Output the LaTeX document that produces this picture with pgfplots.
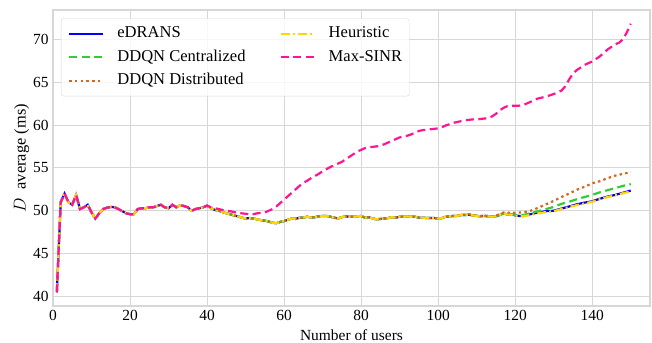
\documentclass[border=0pt]{standalone}
\usepackage{pgfplots}
\pgfplotsset{compat=1.18}
\usepackage{fontspec}
\setmainfont{Liberation Serif}
\definecolor{cblue}{RGB}{0,0,255}
\definecolor{cgreen}{RGB}{50,205,50}
\definecolor{corange}{RGB}{210,105,30}
\definecolor{cgold}{RGB}{255,215,0}
\definecolor{cpink}{RGB}{255,20,147}
\definecolor{gridc}{RGB}{215,215,215}
\newcommand{\fs}{\fontsize{15.5}{18}\selectfont}
\newcommand{\fl}{\fontsize{16.6}{19}\selectfont}
\begin{document}
\begin{tikzpicture}
\begin{axis}[
  name=ax,
  scale only axis,
  width=597bp, height=296bp,
  xmin=0, xmax=155, ymin=38.9, ymax=73.4,
  xtick={0,20,...,140}, ytick={40,45,...,70},
  major tick length=0pt,
  grid=major,
  grid style={gridc, line width=0.9bp},
  axis line style={gridc, line width=1.1bp},
  /pgf/number format/assume math mode=true,
  ticklabel style={font=\fs},
  xticklabel style={yshift=-1bp},
  yticklabel style={xshift=-1bp},
  xlabel={Number of users},
  ylabel={$D$\enspace average (ms)},
  xlabel style={font=\fs, yshift=-2bp},
  ylabel style={font=\fontsize{16.5}{19}\selectfont, yshift=-3bp},
  legend columns=2,
  legend cell align=left,
  legend style={at={(0.0134,0.972)}, anchor=north west, font=\fl,
    draw=gridc, rounded corners=2.5bp, fill=white, fill opacity=0.8, text opacity=1,
    inner xsep=7bp, inner ysep=7.8bp, row sep=8.5bp,
    nodes={inner sep=0pt, text height=11.5bp, text depth=3.5bp},
    /tikz/every even column/.append style={column sep=34bp}},
  legend image code/.code={\draw[#1] (0bp,0bp) -- (34bp,0bp); \path (47bp,0bp);},
  every axis plot/.append style={line width=2.2bp},
]
\addlegendimage{cblue, solid, line width=2.2bp}
\addlegendentry{eDRANS}
\addlegendimage{cgold, line width=2.2bp, dash pattern=on 9bp off 3bp on 2bp off 3bp}
\addlegendentry{Heuristic}
\addlegendimage{cgreen, line width=2.2bp, dash pattern=on 8bp off 4.5bp}
\addlegendentry{DDQN Centralized}
\addlegendimage{cpink, line width=2.2bp, dash pattern=on 8bp off 4.5bp}
\addlegendentry{Max-SINR}
\addlegendimage{corange, line width=2.2bp, dash pattern=on 2.5bp off 3.2bp}
\addlegendentry{DDQN Distributed}
% eDRANS
\addplot[cblue, solid, forget plot] coordinates {
(1,40.5)(2,51.0)(3,52.0)(4,51.0)(5,50.7)(6,51.85)(7,50.2)(8,50.4)(9,50.7)(10,49.8)
(11,49.1)(12,49.7)(13,50.2)(14,50.35)(15,50.45)(16,50.4)(17,50.2)(18,49.95)(19,49.7)(20,49.6)
(21,49.6)(22,50.2)(23,50.3)(24,50.3)(25,50.4)(26,50.4)(27,50.55)(28,50.7)(29,50.4)(30,50.3)
(31,50.7)(32,50.4)(33,50.65)(34,50.55)(35,50.4)(36,50.0)(37,50.2)(38,50.3)(39,50.4)(40,50.6)
(41,50.3)(42,50.1)(43,50.0)(44,49.85)(45,49.7)(46,49.6)(47,49.45)(48,49.35)(49,49.2)(50,49.1)
(51,49.15)(52,49.1)(53,49.0)(54,48.9)(55,48.85)(56,48.75)(57,48.6)(58,48.55)(59,48.7)(60,48.8)
(61,48.95)(62,49.1)(63,49.05)(64,49.2)(65,49.2)(66,49.3)(67,49.2)(68,49.25)(69,49.35)(70,49.4)
(71,49.4)(72,49.3)(73,49.2)(74,49.1)(75,49.25)(76,49.35)(77,49.3)(78,49.3)(79,49.35)(80,49.4)
(81,49.2)(82,49.25)(83,49.1)(84,49.0)(85,49.05)(86,49.1)(87,49.15)(88,49.25)(89,49.2)(90,49.3)
(91,49.3)(92,49.35)(93,49.3)(94,49.3)(95,49.2)(96,49.2)(97,49.15)(98,49.15)(99,49.15)(100,49.1)
(101,49.15)(102,49.3)(103,49.35)(104,49.4)(105,49.4)(106,49.5)(107,49.5)(108,49.55)(109,49.45)(110,49.4)
(111,49.35)(112,49.4)(113,49.35)(114,49.3)(115,49.35)(116,49.5)(117,49.7)(118,49.55)(119,49.6)(120,49.45)
(121,49.4)(122,49.4)(124,49.6)(126,49.8)(128,49.95)(130,50.0)(132,50.25)(134,50.5)(136,50.75)(138,50.95)
(140,51.1)(142,51.4)(144,51.65)(146,51.85)(148,52.1)(150,52.35)};
% DDQN Centralized
\addplot[cgreen, dash pattern=on 8bp off 4.5bp, forget plot] coordinates {
(1,40.5)(2,51.0)(3,52.0)(4,51.0)(5,50.7)(6,51.85)(7,50.2)(8,50.4)(9,50.7)(10,49.8)
(11,49.1)(12,49.7)(13,50.2)(14,50.35)(15,50.45)(16,50.4)(17,50.2)(18,49.95)(19,49.7)(20,49.6)
(21,49.6)(22,50.2)(23,50.3)(24,50.3)(25,50.4)(26,50.4)(27,50.55)(28,50.7)(29,50.4)(30,50.3)
(31,50.7)(32,50.4)(33,50.65)(34,50.55)(35,50.4)(36,50.0)(37,50.2)(38,50.3)(39,50.4)(40,50.6)
(41,50.3)(42,50.1)(43,50.0)(44,49.85)(45,49.7)(46,49.6)(47,49.45)(48,49.35)(49,49.2)(50,49.1)
(51,49.15)(52,49.1)(53,49.0)(54,48.9)(55,48.85)(56,48.75)(57,48.6)(58,48.55)(59,48.7)(60,48.8)
(61,48.95)(62,49.1)(63,49.05)(64,49.2)(65,49.2)(66,49.3)(67,49.2)(68,49.25)(69,49.35)(70,49.4)
(71,49.4)(72,49.3)(73,49.2)(74,49.1)(75,49.25)(76,49.35)(77,49.3)(78,49.3)(79,49.35)(80,49.4)
(81,49.2)(82,49.25)(83,49.1)(84,49.0)(85,49.05)(86,49.1)(87,49.15)(88,49.25)(89,49.2)(90,49.3)
(91,49.3)(92,49.35)(93,49.3)(94,49.3)(95,49.2)(96,49.2)(97,49.15)(98,49.15)(99,49.15)(100,49.1)
(101,49.15)(102,49.3)(103,49.35)(104,49.4)(105,49.4)(106,49.5)(107,49.5)(108,49.55)(109,49.45)(110,49.4)
(111,49.35)(112,49.4)(113,49.35)(114,49.3)(115,49.35)(116,49.5)(117,49.7)(118,49.6)(119,49.6)(120,49.5)
(121,49.5)(122,49.5)(123,49.6)(124,49.75)(126,49.95)(128,50.2)(130,50.45)(132,50.8)(134,51.05)(136,51.35)
(138,51.6)(140,51.85)(142,52.15)(144,52.4)(146,52.65)(148,52.9)(150,53.1)};
% DDQN Distributed
\addplot[corange, dash pattern=on 2.5bp off 3.2bp, forget plot] coordinates {
(1,40.5)(2,51.0)(3,52.0)(4,51.0)(5,50.7)(6,51.85)(7,50.2)(8,50.4)(9,50.7)(10,49.8)
(11,49.1)(12,49.7)(13,50.2)(14,50.35)(15,50.45)(16,50.4)(17,50.2)(18,49.95)(19,49.7)(20,49.6)
(21,49.6)(22,50.2)(23,50.3)(24,50.3)(25,50.4)(26,50.4)(27,50.55)(28,50.7)(29,50.4)(30,50.3)
(31,50.7)(32,50.4)(33,50.65)(34,50.55)(35,50.4)(36,50.0)(37,50.2)(38,50.3)(39,50.4)(40,50.6)
(41,50.3)(42,50.1)(43,50.0)(44,49.85)(45,49.7)(46,49.6)(47,49.45)(48,49.35)(49,49.2)(50,49.1)
(51,49.15)(52,49.1)(53,49.0)(54,48.9)(55,48.85)(56,48.75)(57,48.6)(58,48.55)(59,48.7)(60,48.8)
(61,48.95)(62,49.1)(63,49.05)(64,49.2)(65,49.2)(66,49.3)(67,49.2)(68,49.25)(69,49.35)(70,49.4)
(71,49.4)(72,49.3)(73,49.2)(74,49.1)(75,49.25)(76,49.35)(77,49.3)(78,49.3)(79,49.35)(80,49.4)
(81,49.2)(82,49.25)(83,49.1)(84,49.0)(85,49.05)(86,49.1)(87,49.15)(88,49.25)(89,49.2)(90,49.3)
(91,49.3)(92,49.35)(93,49.3)(94,49.3)(95,49.2)(96,49.2)(97,49.15)(98,49.15)(99,49.15)(100,49.1)
(101,49.15)(102,49.3)(103,49.35)(104,49.4)(105,49.45)(106,49.5)(107,49.55)(108,49.6)(109,49.5)(110,49.45)
(111,49.4)(112,49.45)(113,49.4)(114,49.35)(115,49.45)(116,49.6)(117,49.8)(118,49.75)(119,49.8)(120,49.75)
(121,49.8)(122,49.8)(124,50.0)(126,50.35)(128,50.75)(130,51.15)(132,51.6)(134,52.0)(136,52.45)(138,52.8)
(140,53.2)(142,53.45)(144,53.8)(146,54.1)(148,54.3)(150,54.5)};
% Heuristic
\addplot[cgold, dash pattern=on 9bp off 3bp on 2bp off 3bp, forget plot] coordinates {
(1,40.5)(2,51.0)(3,52.0)(4,51.0)(5,50.7)(6,51.85)(7,50.2)(8,50.4)(9,50.7)(10,49.8)
(11,49.1)(12,49.7)(13,50.2)(14,50.35)(15,50.45)(16,50.4)(17,50.2)(18,49.95)(19,49.7)(20,49.6)
(21,49.6)(22,50.2)(23,50.3)(24,50.3)(25,50.4)(26,50.4)(27,50.55)(28,50.7)(29,50.4)(30,50.3)
(31,50.7)(32,50.4)(33,50.65)(34,50.55)(35,50.4)(36,50.0)(37,50.2)(38,50.3)(39,50.4)(40,50.6)
(41,50.3)(42,50.1)(43,50.0)(44,49.85)(45,49.7)(46,49.6)(47,49.45)(48,49.35)(49,49.2)(50,49.1)
(51,49.15)(52,49.1)(53,49.0)(54,48.9)(55,48.85)(56,48.75)(57,48.6)(58,48.55)(59,48.7)(60,48.8)
(61,48.95)(62,49.1)(63,49.05)(64,49.2)(65,49.2)(66,49.3)(67,49.2)(68,49.25)(69,49.35)(70,49.4)
(71,49.4)(72,49.3)(73,49.2)(74,49.1)(75,49.25)(76,49.35)(77,49.3)(78,49.3)(79,49.35)(80,49.4)
(81,49.2)(82,49.25)(83,49.1)(84,49.0)(85,49.05)(86,49.1)(87,49.15)(88,49.25)(89,49.2)(90,49.3)
(91,49.3)(92,49.35)(93,49.3)(94,49.3)(95,49.2)(96,49.2)(97,49.15)(98,49.15)(99,49.15)(100,49.1)
(101,49.15)(102,49.3)(103,49.35)(104,49.4)(105,49.4)(106,49.5)(107,49.5)(108,49.55)(109,49.45)(110,49.4)
(111,49.35)(112,49.4)(113,49.35)(114,49.3)(115,49.35)(116,49.5)(117,49.7)(118,49.55)(119,49.55)(120,49.4)
(121,49.35)(122,49.35)(124,49.5)(126,49.7)(128,49.85)(130,49.95)(132,50.2)(134,50.45)(136,50.65)(138,50.85)
(140,51.05)(142,51.35)(144,51.6)(146,51.8)(148,52.05)(150,52.25)};
% Max-SINR
\addplot[cpink, dash pattern=on 8bp off 4.5bp, forget plot] coordinates {
(1,40.5)(2,51.0)(3,52.0)(4,51.0)(5,50.7)(6,51.85)(7,50.2)(8,50.4)(9,50.7)(10,49.8)
(11,49.1)(12,49.7)(13,50.2)(14,50.35)(15,50.45)(16,50.4)(17,50.2)(18,49.95)(19,49.7)(20,49.6)
(21,49.6)(22,50.2)(23,50.3)(24,50.3)(25,50.4)(26,50.4)(27,50.55)(28,50.7)(29,50.4)(30,50.3)
(31,50.7)(32,50.4)(33,50.65)(34,50.55)(35,50.4)(36,50.0)(37,50.2)(38,50.3)(39,50.4)(40,50.6)
(41,50.4)(42,50.3)(43,50.2)(44,50.1)(45,50.0)(46,49.95)(47,49.85)(48,49.75)(49,49.7)(50,49.65)
(51,49.6)(52,49.6)(53,49.7)(54,49.75)(55,49.8)(56,50.0)(57,50.2)(58,50.5)(59,50.9)(60,51.3)
(61,51.7)(62,52.1)(63,52.5)(64,52.9)(65,53.25)(66,53.5)(67,53.8)(68,54.05)(69,54.3)(70,54.6)
(71,54.85)(72,55.1)(73,55.3)(74,55.5)(75,55.7)(76,56.0)(77,56.3)(78,56.6)(79,56.9)(80,57.1)
(81,57.3)(82,57.4)(83,57.45)(84,57.5)(85,57.6)(86,57.75)(87,57.95)(88,58.15)(89,58.35)(90,58.55)
(91,58.65)(92,58.75)(93,58.9)(94,59.1)(95,59.3)(96,59.4)(97,59.45)(98,59.5)(99,59.55)(100,59.6)
(101,59.75)(102,59.95)(103,60.1)(104,60.25)(105,60.35)(106,60.45)(107,60.55)(108,60.6)(109,60.65)(110,60.65)
(111,60.7)(112,60.75)(113,60.8)(114,61.0)(115,61.3)(116,61.7)(117,62.0)(118,62.2)(119,62.25)(120,62.25)
(121,62.25)(122,62.3)(123,62.5)(124,62.7)(125,62.9)(126,63.1)(127,63.2)(128,63.3)(129,63.45)(130,63.6)
(131,63.8)(132,64.0)(133,64.5)(134,65.3)(135,66.0)(136,66.4)(137,66.7)(138,67.0)(139,67.2)(140,67.4)
(141,67.7)(142,68.0)(143,68.4)(144,68.8)(145,69.1)(146,69.4)(147,69.6)(148,70.0)(149,70.8)(150,71.8)};
\end{axis}
\pgfresetboundingbox
\path ([shift={(-53bp,-37bp)}]ax.south west) rectangle ([shift={(2bp,10bp)}]ax.north east);
\end{tikzpicture}
\end{document}
